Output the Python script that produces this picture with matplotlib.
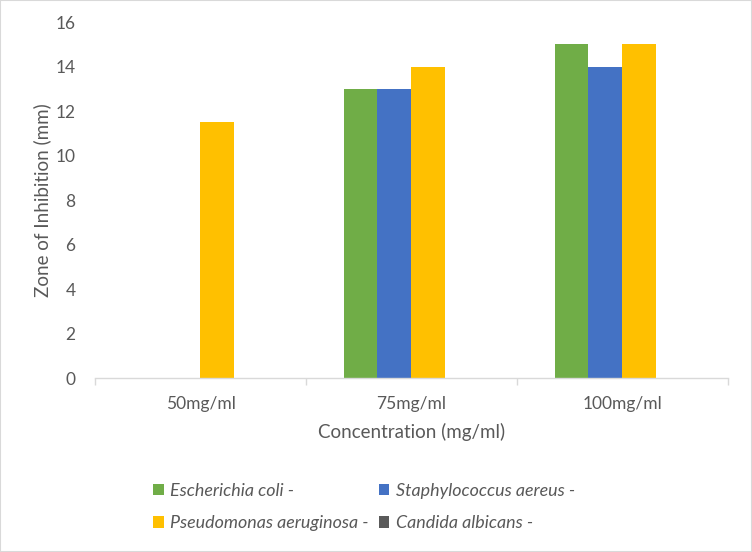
import matplotlib
matplotlib.use("Agg")
import matplotlib.pyplot as plt
import numpy as np
from matplotlib.patches import Rectangle

categories = ["50mg/ml", "75mg/ml", "100mg/ml"]
series_names = ["Escherichia coli -", "Staphylococcus aereus -",
                "Pseudomonas aeruginosa -", "Candida albicans -"]
ecoli = [0, 13, 15]
staph = [0, 13, 14]
pseudo = [11.5, 14, 15]
candida = [0, 0, 0]
colors = ["#70AD47", "#4472C4", "#FFC000", "#5A5A5A"]

plt.rcParams['font.family'] = ['Lato', 'DejaVu Sans']
fig = plt.figure(figsize=(7.52, 5.52), dpi=100)
fig.patches.append(Rectangle((0, 0), 1, 1, transform=fig.transFigure,
                             fill=False, edgecolor="#D9D9D9", linewidth=1.5))
ax = fig.add_axes([0.1263, 0.3152, 0.8417, 0.6448])

x = np.arange(len(categories))
bw = 0.161
data = [ecoli, staph, pseudo, candida]
handles = []
for i, (vals, c) in enumerate(zip(data, colors)):
    h = ax.bar(x + (i - 1.5) * bw, vals, width=bw, color=c, label=series_names[i])
    handles.append(h)

ax.set_xlim(-0.5, 2.5)
ax.set_ylim(0, 16)
ax.set_yticks(range(0, 17, 2))
ax.set_xticks(x)
ax.set_xticklabels(categories)
ax.set_xticks([-0.5, 0.5, 1.5, 2.5], minor=True)
ax.tick_params(axis='x', which='major', length=0, pad=13, labelsize=12.5, labelcolor="#595959")
ax.tick_params(axis='x', which='minor', length=5, color="#D9D9D9", width=1)
ax.tick_params(axis='y', length=0, pad=14, labelsize=12.5, labelcolor="#595959")
for s in ["top", "right", "left"]:
    ax.spines[s].set_visible(False)
ax.spines["bottom"].set_color("#D9D9D9")
ax.spines["bottom"].set_linewidth(1)

ax.set_xlabel("Concentration (mg/ml)", fontsize=13.5, color="#595959", labelpad=8)
ax.set_ylabel("Zone of Inhibition (mm)", fontsize=13.5, color="#595959", labelpad=3)

order = [0, 2, 1, 3]
leg = fig.legend([handles[i] for i in order], [series_names[i] for i in order],
                 loc="center", bbox_to_anchor=(0.484, 0.0815), ncol=2, frameon=False,
                 prop={'style': 'italic', 'size': 12.9}, handlelength=0.6, handleheight=0.6,
                 handletextpad=0.35, columnspacing=0.55, labelspacing=0.93,
                 labelcolor="#595959")

fig.savefig("out.png", dpi=100)
